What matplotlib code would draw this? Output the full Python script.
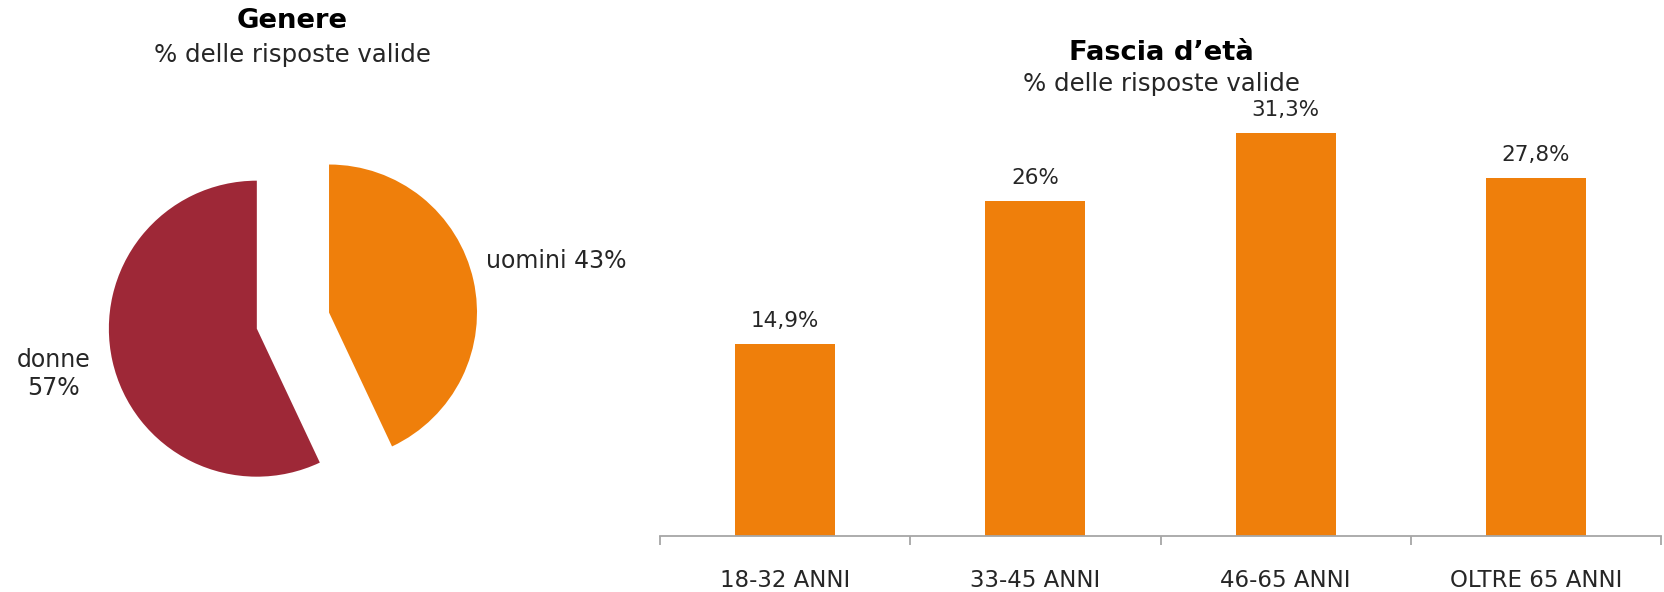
import matplotlib
matplotlib.use("Agg")
import matplotlib.pyplot as plt
import numpy as np

# data
gender_labels = ["uomini", "donne"]
gender_values = [43, 57]
gender_colors = ["#EF7F0B", "#9E2837"]

age_groups = ["18-32 ANNI", "33-45 ANNI", "46-65 ANNI", "OLTRE 65 ANNI"]
age_values = [14.9, 26, 31.3, 27.8]
age_texts = ["14,9%", "26%", "31,3%", "27,8%"]

text_color = "#262626"
plt.rcParams['font.family'] = ['DejaVu Sans']

fig = plt.figure(figsize=(16.64, 5.92), dpi=100)

# pie on the left
ax1 = fig.add_axes([0.00264, 0.00845, 0.3468, 0.9])
ax1.pie(gender_values, colors=gender_colors, startangle=90, counterclock=False,
        explode=[0.25, 0.25], radius=1, wedgeprops=dict(linewidth=0))
ax1.set_aspect('auto')
ax1.set_xlim(-1.95, 1.95)
ax1.set_ylim(-1.8, 1.8)
ax1.axis('off')

ax1.text(1.304, 0.40, gender_labels[0] + " " + str(gender_values[0]) + "%",
         ha='left', va='center', fontsize=17, color=text_color)
ax1.text(-1.62, -0.36, gender_labels[1] + "\n" + str(gender_values[1]) + "%",
         ha='center', va='center', fontsize=17, color=text_color, linespacing=1.25)

fig.text(292 / 1664, 1 - 21 / 592, "Genere", ha='center', va='center',
         fontsize=19.7, fontweight='bold', color='black')
fig.text(292 / 1664, 1 - 55 / 592, "% delle risposte valide", ha='center', va='center',
         fontsize=17.6, color=text_color)

# bars on the right
ax2 = fig.add_axes([660 / 1664, 56 / 592, 1001 / 1664, 450.8 / 592])
x = np.arange(len(age_groups))
ax2.bar(x, age_values, width=0.4, color="#EF7F0B", zorder=2)
ax2.set_xlim(-0.5, len(age_groups) - 0.5)
ax2.set_ylim(0, 35)

for xi, v, t in zip(x, age_values, age_texts):
    ax2.annotate(t, (xi, v), xytext=(0, 12), textcoords='offset points',
                 ha='center', va='baseline', fontsize=15.5, color=text_color)

for side in ['top', 'right', 'left']:
    ax2.spines[side].set_visible(False)
ax2.spines['bottom'].set_color('#a6a6a6')
ax2.spines['bottom'].set_linewidth(1.3)
ax2.set_yticks([])
ax2.set_xticks(x)
ax2.set_xticklabels(age_groups, fontsize=16.5, color=text_color)
ax2.tick_params(axis='x', which='major', length=0, pad=24)
ax2.set_xticks(np.arange(-0.5, len(age_groups)), minor=True)
ax2.tick_params(axis='x', which='minor', length=6.5, width=1.3, color='#a6a6a6')

fig.text(1161 / 1664, 1 - 53 / 592, "Fascia d\u2019et\u00e0", ha='center', va='center',
         fontsize=19.7, fontweight='bold', color='black')
fig.text(1161 / 1664, 1 - 84 / 592, "% delle risposte valide", ha='center', va='center',
         fontsize=17.6, color=text_color)

fig.savefig("out.png", dpi=100, facecolor='white')
